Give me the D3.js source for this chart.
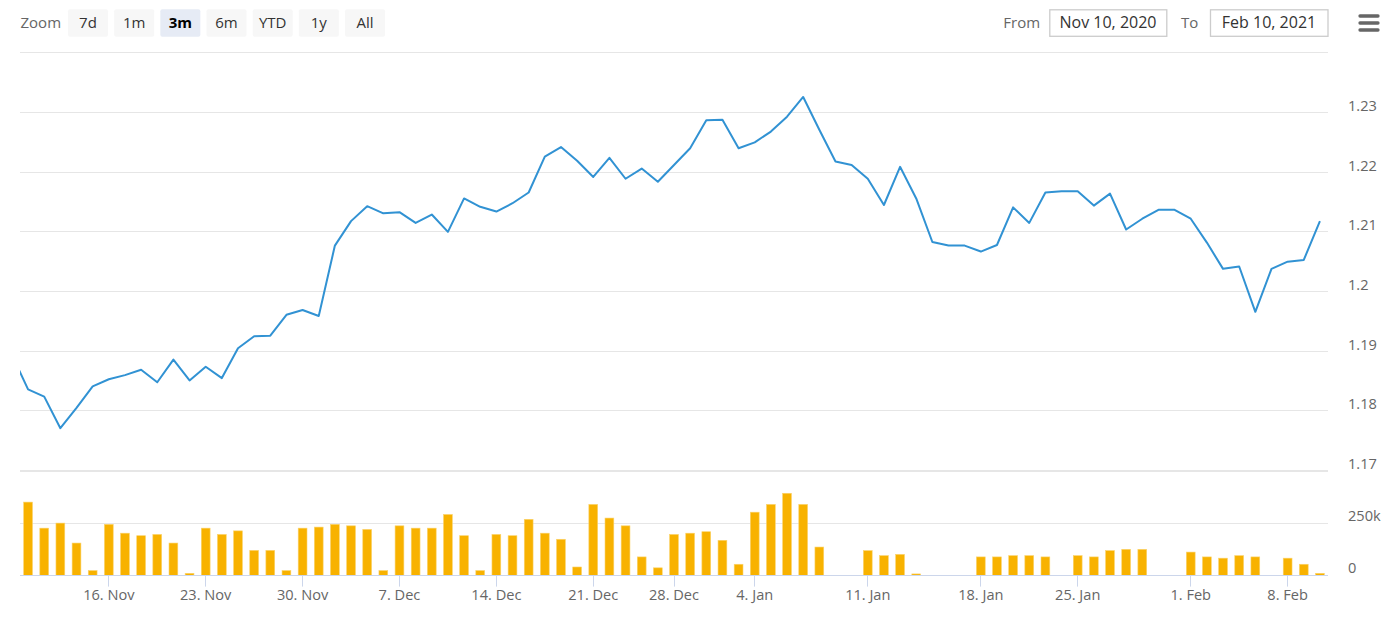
<!DOCTYPE html>
<html>
<head>
<meta charset="utf-8">
<script src="https://cdn.jsdelivr.net/npm/d3@7"></script>
<style>
  html, body { margin: 0; padding: 0; background: #fff; }
  svg { display: block; font-family: "Open Sans", "Noto Sans", sans-serif; }
</style>
</head>
<body>
<svg id="chart" width="1395" height="617"></svg>
<script>
// ---------- DATA ----------
const dates = [
  "2020-11-09","2020-11-10","2020-11-11","2020-11-12","2020-11-13","2020-11-15",
  "2020-11-16","2020-11-17","2020-11-18","2020-11-19","2020-11-20","2020-11-22",
  "2020-11-23","2020-11-24","2020-11-25","2020-11-26","2020-11-27","2020-11-29",
  "2020-11-30","2020-12-01","2020-12-02","2020-12-03","2020-12-04","2020-12-06",
  "2020-12-07","2020-12-08","2020-12-09","2020-12-10","2020-12-11","2020-12-13",
  "2020-12-14","2020-12-15","2020-12-16","2020-12-17","2020-12-18","2020-12-20",
  "2020-12-21","2020-12-22","2020-12-23","2020-12-24","2020-12-27",
  "2020-12-28","2020-12-29","2020-12-30","2020-12-31","2021-01-03",
  "2021-01-04","2021-01-05","2021-01-06","2021-01-07","2021-01-08","2021-01-09","2021-01-10",
  "2021-01-11","2021-01-12","2021-01-13","2021-01-14","2021-01-15","2021-01-16","2021-01-17",
  "2021-01-18","2021-01-19","2021-01-20","2021-01-21","2021-01-22","2021-01-24",
  "2021-01-25","2021-01-26","2021-01-27","2021-01-28","2021-01-29","2021-01-30","2021-01-31",
  "2021-02-01","2021-02-02","2021-02-03","2021-02-04","2021-02-05","2021-02-07",
  "2021-02-08","2021-02-09","2021-02-10"
];
const prices = [
  1.1894,1.1836,1.1824,1.1771,1.1805,1.1841,
  1.1853,1.1860,1.1869,1.1848,1.1886,1.1851,
  1.1874,1.1855,1.1905,1.1925,1.1926,1.1961,
  1.1969,1.1959,1.2077,1.2118,1.2143,1.2131,
  1.2133,1.2115,1.2129,1.2100,1.2156,1.2142,
  1.2134,1.2148,1.2166,1.2226,1.2242,1.2219,
  1.2192,1.2224,1.2189,1.2206,1.2184,
  1.2212,1.2240,1.2287,1.2288,1.2240,
  1.2250,1.2268,1.2293,1.2326,1.2271,1.2218,1.2212,
  1.2189,1.2145,1.2209,1.2156,1.2083,1.2077,1.2077,
  1.2067,1.2078,1.2141,1.2115,1.2166,1.2168,
  1.2168,1.2144,1.2164,1.2104,1.2122,1.2137,1.2137,
  1.2122,1.2082,1.2038,1.2042,1.1966,1.2038,
  1.2050,1.2053,1.2118
];
const volumes = [
  null,350000,226000,250000,155000,24000,
  244000,202000,190000,196000,155000,11000,
  226000,196000,213000,120000,120000,24000,
  226000,231000,244000,237000,220000,24000,
  237000,226000,226000,291000,190000,24000,
  196000,190000,268000,202000,173000,41000,
  339000,274000,237000,89000,37000,
  196000,202000,209000,168000,54000,
  302000,339000,392000,339000,136000,null,null,
  119000,95000,101000,8000,null,null,null,
  89000,89000,95000,95000,89000,null,
  95000,89000,119000,125000,125000,null,null,
  112000,89000,83000,95000,89000,null,
  83000,54000,11000
];
const tickDates = ["2020-11-16","2020-11-23","2020-11-30","2020-12-07","2020-12-14","2020-12-21",
  "2020-12-28","2021-01-04","2021-01-11","2021-01-18","2021-01-25","2021-02-01","2021-02-08"];
const tickLabels = ["16. Nov","23. Nov","30. Nov","7. Dec","14. Dec","21. Dec",
  "28. Dec","4. Jan","11. Jan","18. Jan","25. Jan","1. Feb","8. Feb"];
const priceTicks = [1.17,1.18,1.19,1.20,1.21,1.22,1.23,1.24];
const priceLabels = ["1.17","1.18","1.19","1.2","1.21","1.22","1.23",""];
const volumeTicks = [0,250000,500000];
const volumeLabels = ["0","250k",""];
const zoomButtons = ["7d","1m","3m","6m","YTD","1y","All"];
const selectedZoom = "3m";
const fromDate = "Nov 10, 2020";
const toDate = "Feb 10, 2021";

// ---------- LAYOUT ----------
const svg = d3.select("#chart");
const plotL = 20, plotR = 1328;
const x = d3.scaleLinear().domain([0.5, dates.length - 0.5]).range([plotL, plotR]);
const yP = d3.scaleLinear().domain([1.17, 1.24]).range([470.6, 52.8]);
const yV = d3.scaleLinear().domain([0, 500000]).range([575.6, 470.6]);
const crisp = v => Math.round(v - 0.5) + 0.5;

svg.append("defs").append("clipPath").attr("id","plotclip")
  .append("rect").attr("x", plotL).attr("y", 40).attr("width", plotR - plotL).attr("height", 545);

// gridlines
const grid = svg.append("g");
priceTicks.forEach(t => {
  grid.append("line").attr("x1", plotL).attr("x2", plotR)
    .attr("y1", crisp(yP(t))).attr("y2", crisp(yP(t)))
    .attr("stroke", "#e6e6e6").attr("stroke-width", 1);
});
volumeTicks.slice(1).forEach(t => {
  grid.append("line").attr("x1", plotL).attr("x2", plotR)
    .attr("y1", crisp(yV(t)) + (t === 500000 ? 1 : 0)).attr("y2", crisp(yV(t)) + (t === 500000 ? 1 : 0))
    .attr("stroke", "#e6e6e6").attr("stroke-width", 1);
});

// y labels
const lab = svg.append("g").attr("fill", "#666").style("font-size", "14.6px");
priceTicks.forEach((t, i) => {
  if (!priceLabels[i]) return;
  lab.append("text").attr("x", 1348).attr("y", yP(t) - 1.5).text(priceLabels[i]);
});
volumeTicks.forEach((t, i) => {
  if (!volumeLabels[i]) return;
  lab.append("text").attr("x", 1348).attr("y", yV(t) - 2.3).text(volumeLabels[i]);
});

// volume bars
const plot = svg.append("g").attr("clip-path", "url(#plotclip)");
const barW = 8.8;
plot.append("g").selectAll("rect")
  .data(volumes.map((v, i) => ({v, i})).filter(d => d.v !== null))
  .join("rect")
  .attr("x", d => x(d.i) - barW / 2)
  .attr("y", d => yV(d.v))
  .attr("width", barW)
  .attr("height", d => yV(0) - yV(d.v))
  .attr("fill", "#f8b200")
  .attr("stroke", "#fbd36b").attr("stroke-width", 0.6);

// price line
const line = d3.line().x((d, i) => x(i)).y(d => yP(d));
plot.append("path").datum(prices).attr("d", line)
  .attr("fill", "none").attr("stroke", "#3192d3").attr("stroke-width", 2)
  .attr("stroke-linejoin", "round");

// x axis
const xAxis = svg.append("g");
xAxis.append("line").attr("x1", plotL).attr("x2", plotR)
  .attr("y1", crisp(yV(0))).attr("y2", crisp(yV(0)))
  .attr("stroke", "#ccd6eb").attr("stroke-width", 1);
tickDates.forEach((d, k) => {
  const i = dates.indexOf(d);
  const px = crisp(x(i));
  xAxis.append("line").attr("x1", px).attr("x2", px)
    .attr("y1", yV(0)).attr("y2", yV(0) + 11)
    .attr("stroke", "#ccd6eb").attr("stroke-width", 1);
  xAxis.append("text").attr("x", x(i)).attr("y", 600)
    .attr("text-anchor", "middle").attr("fill", "#666").style("font-size", "14.6px")
    .text(tickLabels[k]);
});

// range selector
const rs = svg.append("g");
rs.append("text").attr("x", 20.5).attr("y", 28).attr("fill", "#666").style("font-size", "15px").text("Zoom");
zoomButtons.forEach((b, k) => {
  const bx = 68 + k * 46.17;
  const sel = b === selectedZoom;
  rs.append("rect").attr("x", bx).attr("y", 9.3).attr("width", 40).attr("height", 27.4)
    .attr("rx", 2).attr("fill", sel ? "#e6ebf5" : "#f7f7f7");
  rs.append("text").attr("x", bx + 20).attr("y", 27.5).attr("text-anchor", "middle")
    .attr("fill", sel ? "#000" : "#333").style("font-size", "15px")
    .style("font-weight", sel ? "bold" : "normal").text(b);
});
rs.append("text").attr("x", 1003.3).attr("y", 27.5).attr("fill", "#666").style("font-size", "15px").text("From");
rs.append("rect").attr("x", 1049.8).attr("y", 9.8).attr("width", 117).attr("height", 26.5)
  .attr("fill", "#fff").attr("stroke", "#cccccc").attr("stroke-width", 1.3);
rs.append("text").attr("x", 1108).attr("y", 27.5).attr("text-anchor", "middle")
  .attr("fill", "#333").style("font-size", "16px").text(fromDate);
rs.append("text").attr("x", 1181).attr("y", 27.5).attr("fill", "#666").style("font-size", "15px").text("To");
rs.append("rect").attr("x", 1210.5).attr("y", 9.8).attr("width", 117.5).attr("height", 26.5)
  .attr("fill", "#fff").attr("stroke", "#cccccc").attr("stroke-width", 1.3);
rs.append("text").attr("x", 1269).attr("y", 27.5).attr("text-anchor", "middle")
  .attr("fill", "#333").style("font-size", "16px").text(toDate);

// context menu icon
const menu = svg.append("g").attr("stroke", "#666").attr("stroke-width", 3.3).attr("stroke-linecap", "round");
[16, 23, 30].forEach(yy => {
  menu.append("line").attr("x1", 1360).attr("x2", 1378).attr("y1", yy).attr("y2", yy);
});
</script>
</body>
</html>
